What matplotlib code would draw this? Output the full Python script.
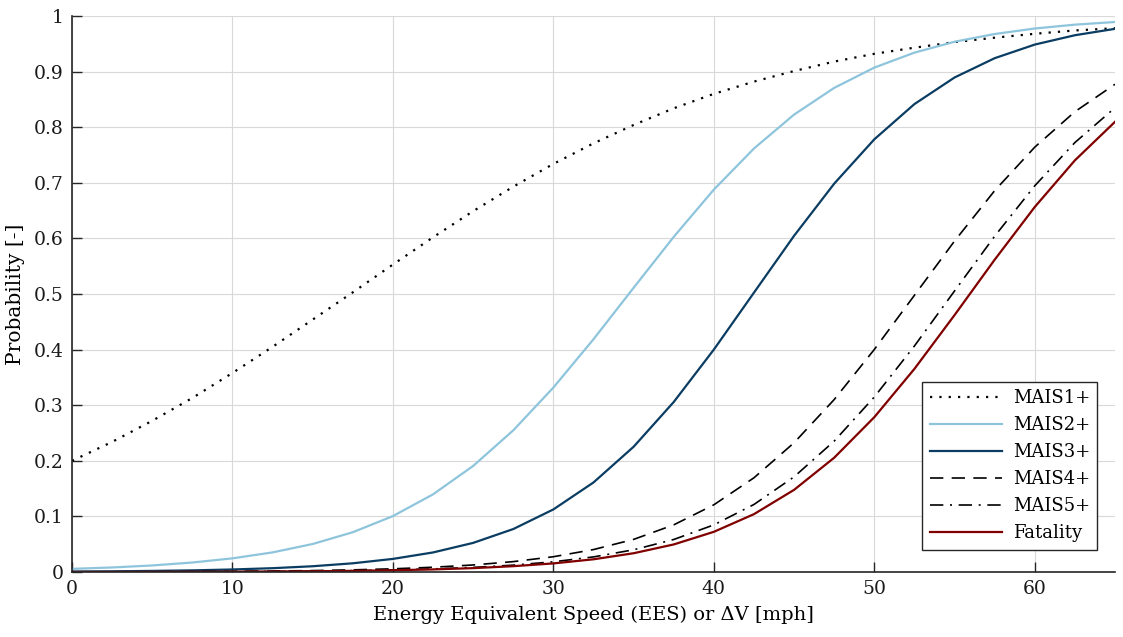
import numpy as np
import matplotlib
matplotlib.use("Agg")
import matplotlib.pyplot as plt

# speed samples [mph] and probability values
speed = [0, 2.5, 5, 7.5, 10, 12.5, 15, 17.5, 20, 22.5, 25, 27.5, 30, 32.5,
         35, 37.5, 40, 42.5, 45, 47.5, 50, 52.5, 55, 57.5, 60, 62.5, 65]

mais1 = [0.200, 0.234, 0.272, 0.313, 0.358, 0.405, 0.454, 0.503, 0.553,
         0.602, 0.649, 0.693, 0.734, 0.771, 0.804, 0.834, 0.860, 0.882,
         0.901, 0.918, 0.932, 0.943, 0.953, 0.961, 0.968, 0.974, 0.978]
mais2 = [0.0057, 0.0082, 0.0118, 0.0171, 0.0246, 0.0353, 0.0504, 0.0716,
         0.1006, 0.1397, 0.1908, 0.2548, 0.3318, 0.4187, 0.5112, 0.6028,
         0.6878, 0.7617, 0.8227, 0.8707, 0.9072, 0.9341, 0.9537, 0.9676,
         0.9775, 0.9844, 0.9892]
mais3 = [0.0009, 0.0013, 0.0020, 0.0030, 0.0046, 0.0069, 0.0104, 0.0157,
         0.0236, 0.0352, 0.0524, 0.0773, 0.1126, 0.1611, 0.2253, 0.3058,
         0.4001, 0.5025, 0.6047, 0.6985, 0.7782, 0.8416, 0.8894, 0.9241,
         0.9486, 0.9654, 0.9769]
mais4 = [0.0003, 0.0004, 0.0006, 0.0008, 0.0012, 0.0018, 0.0026, 0.0039,
         0.0058, 0.0086, 0.0127, 0.0187, 0.0275, 0.0404, 0.0587, 0.0848,
         0.1209, 0.1695, 0.2325, 0.3102, 0.4003, 0.4977, 0.5953, 0.6859,
         0.7642, 0.8279, 0.8772]
mais5 = [0.0002, 0.0002, 0.0003, 0.0005, 0.0008, 0.0011, 0.0017, 0.0025,
         0.0038, 0.0056, 0.0083, 0.0124, 0.0184, 0.0272, 0.0400, 0.0585,
         0.0848, 0.1215, 0.1712, 0.2355, 0.3148, 0.4066, 0.5055, 0.6040,
         0.6947, 0.7724, 0.8351]
fatal = [0.0001, 0.0002, 0.0003, 0.0004, 0.0006, 0.0010, 0.0014, 0.0021,
         0.0032, 0.0047, 0.0070, 0.0105, 0.0155, 0.0229, 0.0338, 0.0496,
         0.0723, 0.1041, 0.1478, 0.2056, 0.2785, 0.3654, 0.4621, 0.5617,
         0.6566, 0.7404, 0.8097]

labels = ["MAIS1+", "MAIS2+", "MAIS3+", "MAIS4+", "MAIS5+", "Fatality"]
x_ticks = [0, 10, 20, 30, 40, 50, 60]
y_ticks = [0, 0.1, 0.2, 0.3, 0.4, 0.5, 0.6, 0.7, 0.8, 0.9, 1]

plt.rcParams['font.family'] = ['DejaVu Serif']
plt.rcParams['font.size'] = 13

fig = plt.figure(figsize=(11.23, 6.37), dpi=100)
ax = fig.add_axes([0.0641, 0.102, 0.9288, 0.8729])

lw = 1.6
ax.plot(speed, mais1, color='black', lw=lw, linestyle=(0, (1, 3.2)), label=labels[0])
ax.plot(speed, mais2, color='#8ec5dc', lw=lw, label=labels[1])
ax.plot(speed, mais3, color='#0b3d63', lw=lw, label=labels[2])
ax.plot(speed, mais4, color='black', lw=1.2, linestyle=(0, (8, 5)), label=labels[3])
ax.plot(speed, mais5, color='black', lw=1.2, linestyle=(0, (8, 4, 1.2, 4)), label=labels[4])
ax.plot(speed, fatal, color='#800000', lw=lw, label=labels[5])

ax.set_xlim(0, 65)
ax.set_ylim(0, 1)
ax.set_xticks(x_ticks)
ax.set_yticks(y_ticks)
ax.set_yticklabels([f"{v:g}" for v in y_ticks])
ax.grid(True, color='#d9d9d9', linewidth=0.8)
ax.set_axisbelow(True)

for side in ['top', 'right']:
    ax.spines[side].set_visible(False)
for side in ['left', 'bottom']:
    ax.spines[side].set_color('#262626')
    ax.spines[side].set_linewidth(1.2)
ax.tick_params(direction='in', length=7.5, width=1, colors='#262626',
               labelcolor='#1a1a1a', labelsize=13.5, pad=6)

ax.set_xlabel("Energy Equivalent Speed (EES) or \u0394V [mph]", fontsize=14, labelpad=5)
ax.set_ylabel("Probability [-]", fontsize=14.5, labelpad=6)

leg = ax.legend(loc='lower right', fontsize=13, frameon=True, fancybox=False,
                edgecolor='#262626', framealpha=1, handlelength=4.0,
                labelspacing=0.5, borderpad=0.4, handletextpad=0.6,
                bbox_to_anchor=(0.9915, 0.024))
leg.get_frame().set_linewidth(1.0)

fig.savefig("out.png", dpi=100)
